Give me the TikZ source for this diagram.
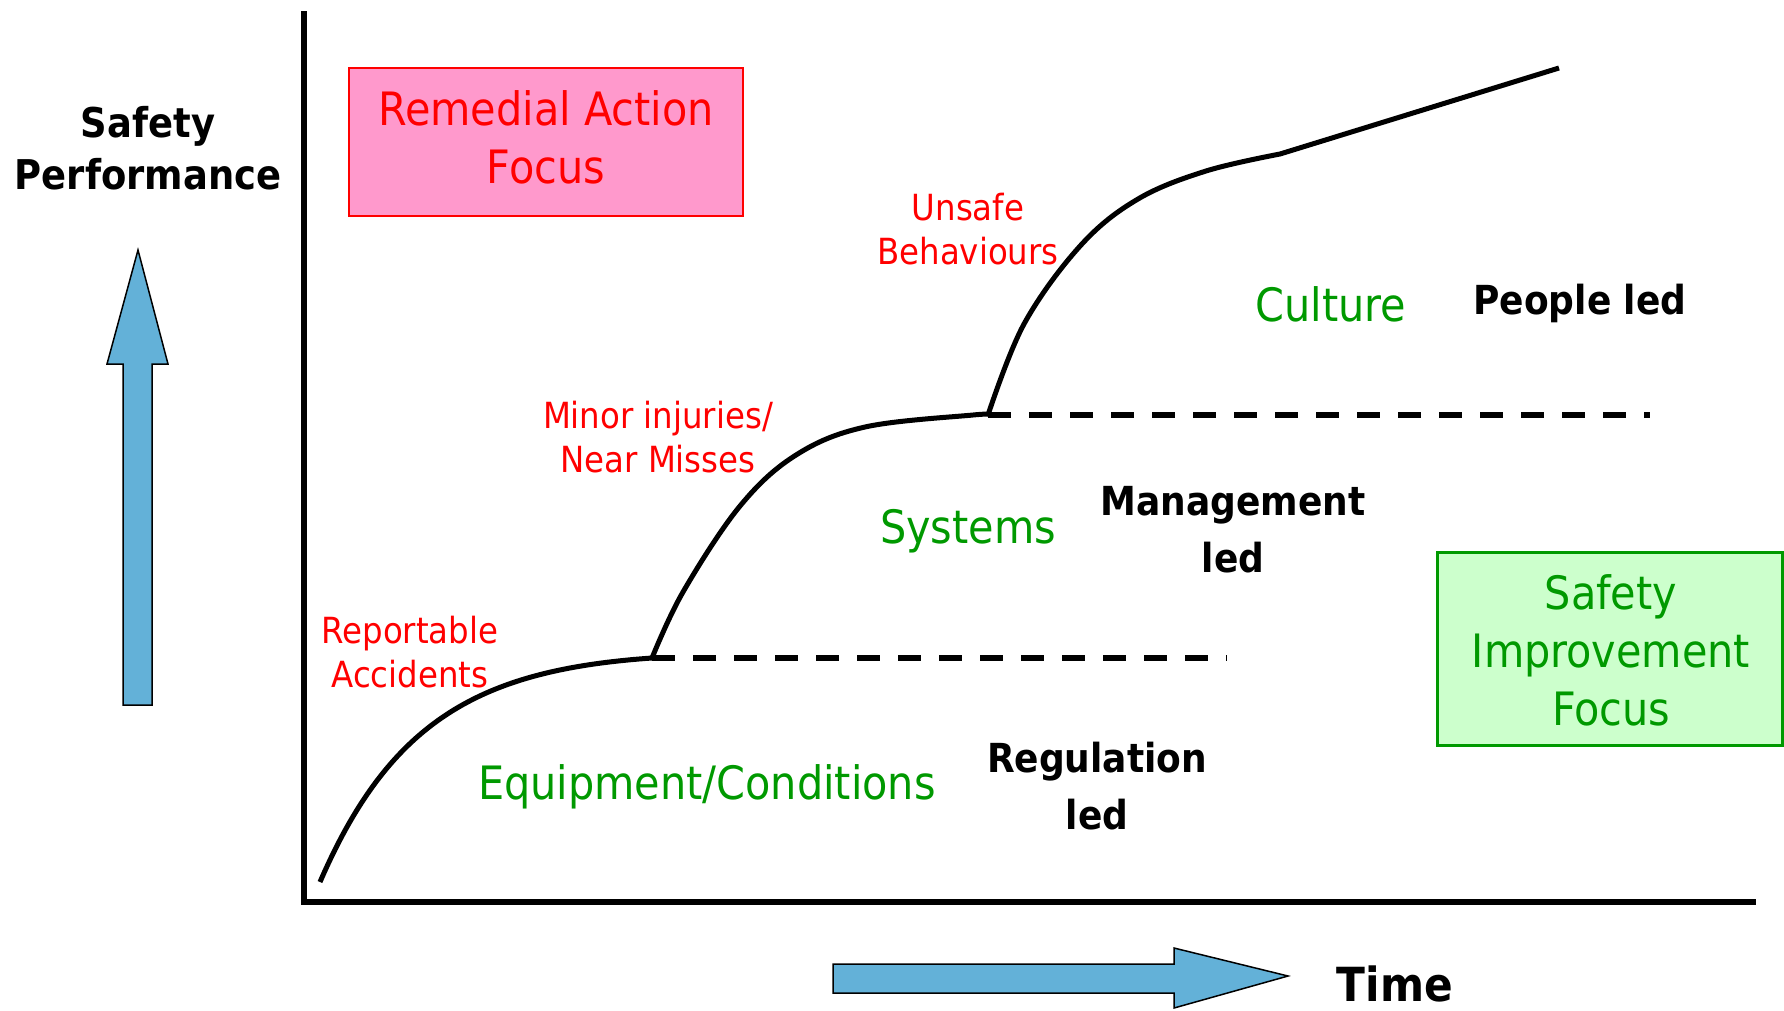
\documentclass[tikz,border=0pt]{standalone}
\usepackage{fontspec}
\setmainfont{DejaVu Sans Condensed}
\definecolor{sred}{RGB}{255,0,0}
\definecolor{sgreen}{RGB}{0,153,0}
\definecolor{spink}{RGB}{255,153,204}
\definecolor{slime}{RGB}{204,255,204}
\definecolor{sblue}{RGB}{99,177,216}
\tikzset{
  redlbl/.style={text=sred, align=center, inner sep=0pt, font=\fontsize{36}{44}\selectfont},
  greenlbl/.style={text=sgreen, align=center, inner sep=0pt, font=\fontsize{46}{56}\selectfont},
  ledlbl/.style={align=center, inner sep=0pt, font=\bfseries\fontsize{40}{57}\selectfont},
  bigarrow/.style={fill=sblue, draw=black, line width=1.5pt, line join=miter},
  stage/.style={line width=5pt, line join=round},
  level/.style={line width=6pt, dash pattern=on 23pt off 18pt}
}
\begin{document}
\begin{tikzpicture}[x=1pt, y=-1pt]
    \useasboundingbox (0,0) rectangle (1784,1010);
    % axes
    \draw[line width=6pt] (304,11) -- (304,902) -- (1756,902);
    % boxes
    \draw[fill=spink, draw=sred, line width=2pt] (349,68) rectangle (743,216);
    \node[text=sred, align=center, inner sep=0pt, font=\fontsize{46}{58}\selectfont] (remedial) at (546,137) {Remedial Action\\Focus};
    \draw[fill=slime, draw=sgreen, line width=3pt] (1437,552) rectangle (1782,745);
    \node[greenlbl, font=\fontsize{46}{58}\selectfont] (improve) at (1611,650) {Safety\\Improvement\\Focus};
    % axis arrows and titles
    \filldraw[bigarrow] (123,705) -- (123,364) -- (107,364) -- (138,250) -- (168,364) -- (152,364) -- (152,705) -- cycle;
    \filldraw[bigarrow] (833,964) -- (1174,964) -- (1174,948) -- (1288,976) -- (1174,1008) -- (1174,993) -- (833,993) -- cycle;
    \node[ledlbl, font=\bfseries\fontsize{41}{52}\selectfont] (perf) at (148,148) {Safety\\Performance};
    \node[inner sep=0pt, font=\bfseries\fontsize{47}{56}\selectfont] (time) at (1395,984) {Time};
    % the curve
    \draw[stage] (320,882) .. controls (390,720) and (480,670) .. (652,658);
    \draw[stage] plot[smooth, tension=0.6] coordinates {(652,658) (683,592) (740,506) (796,455) (865,427) (973,415) (988,415)};
    \draw[stage] plot[smooth, tension=0.6] coordinates {(988,415) (1024,324) (1081,245) (1138,199) (1206,171) (1280,154)} -- (1559,68);
    \draw[level] (652,658) -- (1227,658);
    \draw[level] (988,415) -- (1650,415);
    % labels
    \node[redlbl] (rep) at (410,652) {Reportable\\Accidents};
    \node[redlbl] (minor) at (658,437) {Minor injuries/\\Near Misses};
    \node[redlbl] (unsafe) at (968,229) {Unsafe\\Behaviours};
    \node[greenlbl] (equip) at (707,787) {Equipment/Conditions};
    \node[greenlbl] (systems) at (968,531) {Systems};
    \node[greenlbl] (culture) at (1331,304) {Culture};
    \node[ledlbl] (reg) at (1097,786) {Regulation\\led};
    \node[ledlbl] (mgmt) at (1233,530) {Management\\led};
    \node[ledlbl] (people) at (1580,303) {People led};
\end{tikzpicture}
\end{document}
